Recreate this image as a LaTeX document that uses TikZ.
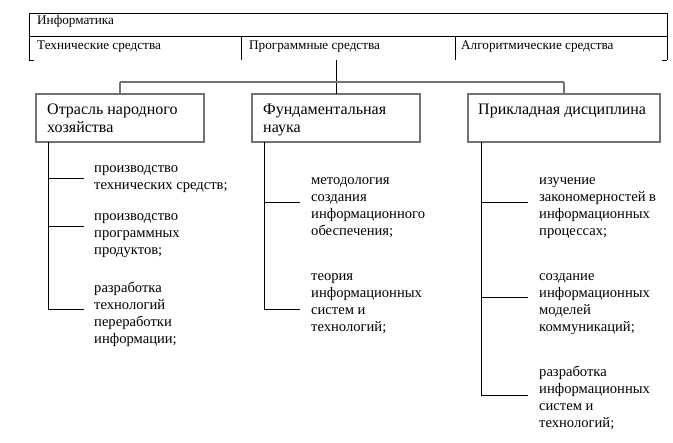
\documentclass[tikz,border=0pt]{standalone}
\usepackage{fontspec}
\setmainfont{Liberation Serif}
\begin{document}
\begin{tikzpicture}[x=1pt,y=-1pt,
  tbl/.style={draw=black,line width=0.9pt},
  conn/.style={draw=black,line width=0.9pt},
  bus/.style={draw=black!55,line width=1.4pt},
  boxnode/.style={draw=black!55,line width=1.4pt,rectangle,inner sep=0pt,outer sep=0pt,minimum height=48pt},
  tabtext/.style={anchor=base west,inner sep=0pt,font=\fontsize{13.2}{15}\selectfont},
  boxtext/.style={anchor=north west,inner sep=0pt,align=left,font=\fontsize{16}{18}\selectfont},
  leaf/.style={anchor=north west,inner sep=0pt,align=left,font=\fontsize{14.6}{17}\selectfont}]
\useasboundingbox (0,0) rectangle (673,443);

% table
\draw[tbl] (29,60) -- (29,13) -- (667,13) -- (667,60);
\draw[tbl] (29,36) -- (667,36);
\draw[tbl] (241,36) -- (241,60);
\draw[tbl] (455,36) -- (455,60);
\draw[tbl] (29,60) -- (34,60);
\draw[tbl] (662,60) -- (667,60);
\node[tabtext] (inf) at (37,25) {Информатика};
\node[tabtext] (tech) at (37,49.3) {Технические средства};
\node[tabtext] (prog) at (249,49.3) {Программные средства};
\node[tabtext] (alg) at (461,49.3) {Алгоритмические средства};
\coordinate (t) at (336,60);

% boxes
\node[boxnode,anchor=north west,minimum width=168pt] (b1) at (36,94) {};
\node[boxnode,anchor=north west,minimum width=168pt] (b2) at (252,94) {};
\node[boxnode,anchor=north west,minimum width=192pt] (b3) at (468,94) {};
\node[boxtext] (b1t) at ([xshift=11pt,yshift=-7.4pt]b1.north west) {\strut Отрасль народного\\хозяйства};
\node[boxtext] (b2t) at ([xshift=11pt,yshift=-7.4pt]b2.north west) {\strut Фундаментальная\\наука};
\node[boxtext] (b3t) at ([xshift=10pt,yshift=-7.4pt]b3.north west) {\strut Прикладная дисциплина};

% bus
\coordinate (busy) at (0,82);
\draw[conn] (t) -- (b2.north);
\draw[bus] (b1.north |- busy) -- (b3.north |- busy);
\draw[bus] (b1.north |- busy) -- (b1.north);
\draw[bus] (b3.north |- busy) -- (b3.north);

% leaves left
\node[leaf] (l11) at (94,160) {\strut производство\\технических средств;};
\node[leaf] (l12) at (94,208) {\strut производство\\программных\\продуктов;};
\node[leaf] (l13) at (94,280) {\strut разработка\\технологий\\переработки\\информации;};
% leaves middle
\node[leaf] (l21) at (311,172) {\strut методология\\создания\\информационного\\обеспечения;};
\node[leaf] (l22) at (311,268) {\strut теория\\информационных\\систем и\\технологий;};
% leaves right
\node[leaf] (l31) at (539,172) {\strut изучение\\закономерностей в\\информационных\\процессах;};
\node[leaf] (l32) at (539,268) {\strut создание\\информационных\\моделей\\коммуникаций;};
\node[leaf] (l33) at (539,364) {\strut разработка\\информационных\\систем и\\технологий;};

% branch ends
\coordinate (e11) at (84,178);
\coordinate (e12) at (84,226);
\coordinate (e13) at (84,309);
\coordinate (e21) at (300,202);
\coordinate (e22) at (300,309);
\coordinate (e31) at (528,202);
\coordinate (e32) at (528,297);
\coordinate (e33) at (528,395);

\coordinate (v1) at ([xshift=12pt]b1.south west);
\coordinate (v2) at ([xshift=12pt]b2.south west);
\coordinate (v3) at ([xshift=13pt]b3.south west);

\draw[conn] (v1) |- (e13);
\draw[conn] (v1 |- e11) -- (e11);
\draw[conn] (v1 |- e12) -- (e12);
\draw[conn] (v2) |- (e22);
\draw[conn] (v2 |- e21) -- (e21);
\draw[conn] (v3) |- (e33);
\draw[conn] (v3 |- e31) -- (e31);
\draw[conn] (v3 |- e32) -- (e32);
\end{tikzpicture}
\end{document}
